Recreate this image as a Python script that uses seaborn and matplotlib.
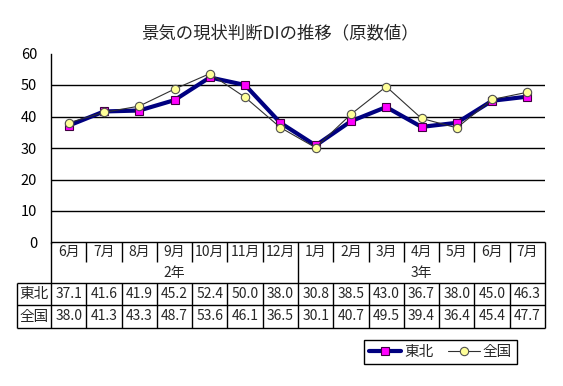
import numpy as np
import pandas as pd
import seaborn as sns
import matplotlib.pyplot as plt

sns.set_theme(style="white")
plt.rcParams["font.family"] = ["Noto Sans CJK JP", "DejaVu Sans"]

title = "景気の現状判断DIの推移（原数値）"
months = ["6月", "7月", "8月", "9月", "10月", "11月", "12月",
          "1月", "2月", "3月", "4月", "5月", "6月", "7月"]
years = ["2年", "3年"]
year_span = [7, 7]
tohoku = [37.1, 41.6, 41.9, 45.2, 52.4, 50.0, 38.0, 30.8, 38.5, 43.0, 36.7, 38.0, 45.0, 46.3]
zenkoku = [38.0, 41.3, 43.3, 48.7, 53.6, 46.1, 36.5, 30.1, 40.7, 49.5, 39.4, 36.4, 45.4, 47.7]
series_names = ["東北", "全国"]

df = pd.DataFrame({"pos": np.arange(len(months)), "month": months,
                   "東北": tohoku, "全国": zenkoku})

W, H = 563, 386
fig = plt.figure(figsize=(W / 100, H / 100), dpi=100)


def frac(x0, y0, x1, y1):
    # pixel box -> figure fraction
    return [x0 / W, 1 - y1 / H, (x1 - x0) / W, (y1 - y0) / H]


n = len(months)
col_w = (545 - 51) / n
head_w = (51 - 17) / col_w

# --- chart ---
ax = fig.add_axes(frac(51, 53.5, 545, 242.5))
sns.lineplot(data=df, x="pos", y="東北", ax=ax, color="#000080", linewidth=3,
             marker="s", markersize=5.5, markerfacecolor="#FF00FF",
             markeredgecolor="#400040", markeredgewidth=0.8, label="東北", zorder=3)
sns.lineplot(data=df, x="pos", y="全国", ax=ax, color="#303030", linewidth=0.8,
             marker="o", markersize=6, markerfacecolor="#FFFF99",
             markeredgecolor="#505050", markeredgewidth=0.8, label="全国", zorder=4)

ax.set_xlim(-0.5, n - 0.5)
ax.set_ylim(0, 60)
ax.set_yticks(range(0, 61, 10))
ax.set_xticks([])
ax.set_xlabel("")
ax.set_ylabel("")
ax.yaxis.grid(True, color="black", linewidth=1)
ax.get_ygridlines()[-1].set_visible(False)
ax.get_ygridlines()[0].set_visible(False)
for s in ["top", "right", "bottom"]:
    ax.spines[s].set_visible(False)
ax.spines["left"].set_color("black")
ax.spines["left"].set_linewidth(1)
ax.tick_params(axis="y", direction="in", length=3, color="black", pad=10,
               labelsize=10.5, labelcolor="black")

handles, labels = ax.get_legend_handles_labels()
ax.get_legend().remove()

fig.text(280 / W, 1 - 33 / H, title, ha="center", va="center", fontsize=12.5)

# --- data table ---
tab = fig.add_axes(frac(17, 242, 545, 328))
tab.set_xlim(-0.5 - head_w, n - 0.5)
tab.set_ylim(328, 242)
tab.axis("off")

lk = dict(color="black", linewidth=1, clip_on=False)
left = -0.5 - head_w
right = n - 0.5
tab.hlines(242, -0.5, right, **lk)
for yy in [283, 305, 328]:
    tab.hlines(yy, left, right, **lk)
tab.vlines([-0.5, right], 242, 328, **lk)
tab.vlines(left, 283, 328, **lk)
bounds = np.cumsum(year_span)[:-1] - 0.5
for i in range(n - 1):
    xb = i + 0.5
    if xb in bounds:
        tab.vlines(xb, 242, 328, **lk)
    else:
        tab.vlines(xb, 242, 262, **lk)
        tab.vlines(xb, 283, 328, **lk)

fs = 10
for i, m in enumerate(months):
    tab.text(i, 252, m, ha="center", va="center", fontsize=fs)
start = 0
for y_lab, span in zip(years, year_span):
    tab.text(start + (span - 1) / 2, 272.5, y_lab, ha="center", va="center", fontsize=fs)
    start += span
for yy, name, vals in [(294, series_names[0], tohoku), (316.5, series_names[1], zenkoku)]:
    tab.text((left - 0.5) / 2, yy, name, ha="center", va="center", fontsize=10.5)
    for i, v in enumerate(vals):
        tab.text(i, yy, f"{v:.1f}", ha="center", va="center", fontsize=fs)

# --- legend ---
leg = fig.legend(handles, labels, loc="center", ncol=2,
                 bbox_to_anchor=(440.5 / W, 1 - 352 / H), fontsize=10.5,
                 frameon=True, fancybox=False, edgecolor="black", framealpha=1,
                 handlelength=2.2, handletextpad=0.2, columnspacing=1.0,
                 borderpad=0.35)
leg.get_frame().set_linewidth(1)

fig.savefig("out.png", dpi=100)
